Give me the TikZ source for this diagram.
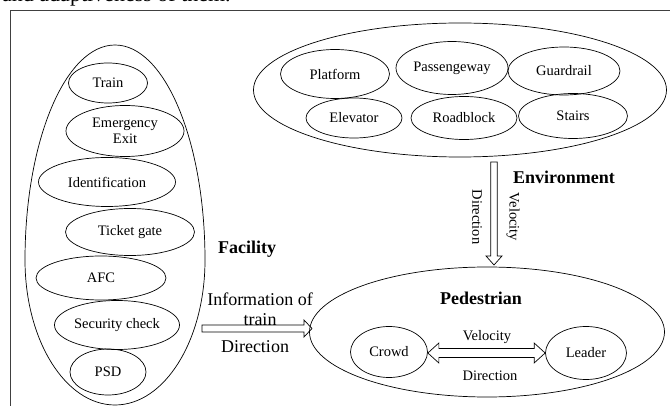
\documentclass[tikz,border=0pt]{standalone}
\usepackage{fontspec}
\setmainfont{Liberation Serif}
\usetikzlibrary{shapes.geometric,calc}
\begin{document}
\begin{tikzpicture}[x=1pt,y=-1pt,
  ov/.style={draw, ellipse, inner sep=0pt, line width=0.7pt, font=\fontsize{14.5}{16}\selectfont, align=center},
  big/.style={draw, ellipse, inner sep=0pt, line width=0.7pt},
  lbl/.style={inner sep=0pt, font=\fontsize{18}{20}\selectfont\bfseries},
  txt/.style={inner sep=0pt, font=\fontsize{18}{20}\selectfont, align=center},
  stxt/.style={inner sep=0pt, font=\fontsize{14.5}{16}\selectfont},
  vtxt/.style={inner sep=0pt, font=\fontsize{14.5}{16}\selectfont, rotate=-90},
  hollow/.style={draw, line width=0.7pt, line join=miter}]
\useasboundingbox (0,0) rectangle (670,406);
\clip (0,0) rectangle (670,406);
% cut-off caption text at top
\node[anchor=base west, inner sep=0pt, font=\fontsize{22}{24}\selectfont] (cap) at (2,2) {and adaptiveness of them.};
% frame
\draw[line width=1pt, black!75] (10,410) -- (10,11) -- (675,11);
% Facility egg
\draw[line width=0.7pt] (25,260) arc[start angle=180, end angle=360, x radius=90, y radius=215]
  arc[start angle=0, end angle=180, x radius=90, y radius=145] -- cycle;
\node[ov, minimum width=79, minimum height=40] (train) at (108,83) {Train};
\node[ov, minimum width=118, minimum height=51] (emerg) at (125,131) {Emergency\\Exit};
\node[ov, minimum width=137, minimum height=49] (ident) at (107,182) {Identification};
\node[ov, minimum width=129, minimum height=47] (ticket) at (130,232) {Ticket gate};
\node[ov, minimum width=130, minimum height=44] (afc) at (101,278) {AFC};
\node[ov, minimum width=125, minimum height=49] (secur) at (117,325) {Security check};
\node[ov, minimum width=76, minimum height=46] (psd) at (108,372) {PSD};
\node[lbl] (faclbl) at (247,249) {Facility};
% Environment
\node[big, minimum width=413, minimum height=134] (env) at (460,90) {};
\node[ov, minimum width=109, minimum height=49] (platform) at (335,74) {Platform};
\node[ov, minimum width=112, minimum height=53] (passeng) at (452,68) {Passengeway};
\node[ov, minimum width=112, minimum height=48] (guard) at (564,71) {Guardrail};
\node[ov, minimum width=96, minimum height=40] (elev) at (354,118) {Elevator};
\node[ov, minimum width=106, minimum height=43] (road) at (464,118) {Roadblock};
\node[ov, minimum width=109, minimum height=45] (stairs) at (573,116) {Stairs};
\node[lbl] (envlbl) at (564,177) {Environment};
% Pedestrian
\node[big, minimum width=355, minimum height=130] (ped) at (487,332) {};
\node[lbl] (pedlbl) at (481,298) {Pedestrian};
\node[ov, minimum width=77, minimum height=51] (crowd) at (389,352) {Crowd};
\node[ov, minimum width=81, minimum height=53] (leader) at (586,353) {Leader};
% vertical hollow arrow Environment -> Pedestrian
\coordinate (va) at (494,162);
\coordinate (vb) at (494,265);
\draw[hollow] ($(va)+(-3.3,0)$) -- ($(vb)+(-3.3,-9)$) -- ($(vb)+(-8,-9)$) -- (vb)
  -- ($(vb)+(8,-9)$) -- ($(vb)+(3.3,-9)$) -- ($(va)+(3.3,0)$) -- cycle;
\node[vtxt] (vdir) at (477,217) {Direction};
\node[vtxt] (vvel) at (513,217) {Velocity};
% horizontal hollow arrow Facility -> Pedestrian
\coordinate (ha) at (202,328.5);
\coordinate (hb) at (312,328.5);
\draw[hollow] ($(ha)+(0,-3.5)$) -- ($(hb)+(-8,-3.5)$) -- ($(hb)+(-8,-8.5)$) -- (hb)
  -- ($(hb)+(-8,8.5)$) -- ($(hb)+(-8,3.5)$) -- ($(ha)+(0,3.5)$) -- cycle;
\node[txt] (hinfo) at (260,309) {Information of\\train};
\node[txt] (hdir) at (255,347) {Direction};
% double hollow arrow Crowd <-> Leader
\coordinate (da) at ($(crowd.east)+(0,1)$);
\coordinate (db) at (da -| leader.west);
\draw[hollow] (da) -- ($(da)+(11,-10)$) -- ($(da)+(11,-4.5)$) -- ($(db)+(-11,-4.5)$)
  -- ($(db)+(-11,-10)$) -- (db) -- ($(db)+(-11,10)$) -- ($(db)+(-11,4.5)$)
  -- ($(da)+(11,4.5)$) -- ($(da)+(11,10)$) -- cycle;
\node[stxt] (dvel) at (487,337) {Velocity};
\node[stxt] (ddir) at (490,376) {Direction};
\end{tikzpicture}
\end{document}
